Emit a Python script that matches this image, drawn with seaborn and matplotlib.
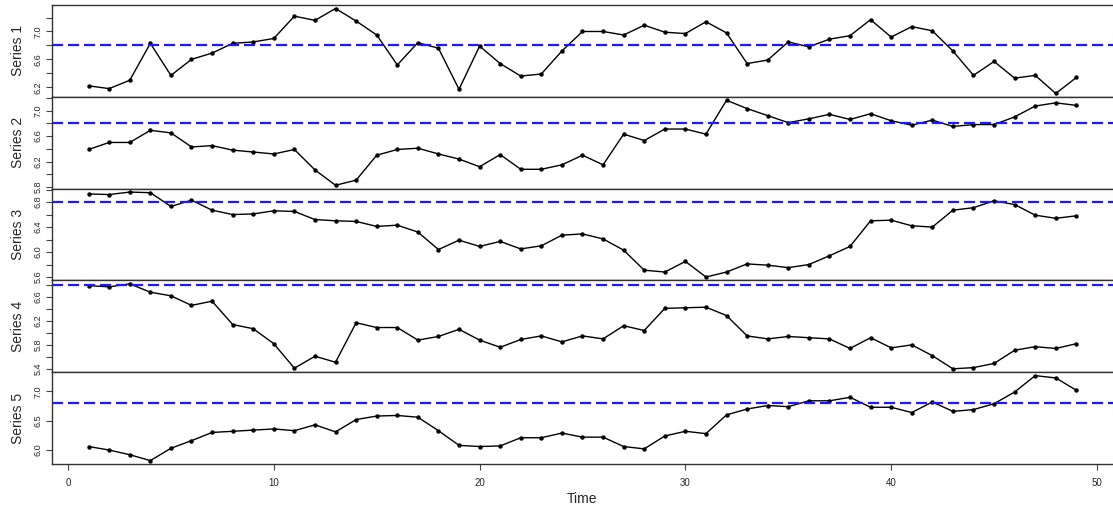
import numpy as np
import pandas as pd
import seaborn as sns
import matplotlib
matplotlib.use("Agg")
from matplotlib import pyplot as plt
from matplotlib.ticker import FixedLocator, FuncFormatter

time = list(range(1, 50))

series_1 = [6.22, 6.18, 6.30, 6.83, 6.37, 6.60, 6.69, 6.83, 6.85, 6.90,
            7.22, 7.16, 7.33, 7.15, 6.95, 6.52, 6.84, 6.76, 6.17, 6.79,
            6.54, 6.36, 6.39, 6.72, 7.00, 7.00, 6.95, 7.09, 6.99, 6.97,
            7.14, 6.98, 6.54, 6.59, 6.85, 6.78, 6.89, 6.94, 7.17, 6.92,
            7.07, 7.01, 6.72, 6.37, 6.57, 6.33, 6.37, 6.11, 6.34]
series_2 = [6.39, 6.50, 6.50, 6.69, 6.65, 6.43, 6.45, 6.38, 6.35, 6.32,
            6.39, 6.07, 5.83, 5.91, 6.30, 6.39, 6.41, 6.32, 6.24, 6.12,
            6.31, 6.08, 6.08, 6.15, 6.30, 6.15, 6.63, 6.53, 6.71, 6.71,
            6.63, 7.16, 7.03, 6.92, 6.81, 6.87, 6.94, 6.86, 6.95, 6.84,
            6.77, 6.85, 6.75, 6.78, 6.78, 6.90, 7.07, 7.12, 7.08]
series_3 = [6.93, 6.92, 6.96, 6.95, 6.73, 6.83, 6.67, 6.60, 6.61, 6.66,
            6.65, 6.52, 6.50, 6.49, 6.41, 6.43, 6.32, 6.04, 6.19, 6.09,
            6.17, 6.05, 6.10, 6.27, 6.29, 6.21, 6.03, 5.71, 5.68, 5.85,
            5.60, 5.68, 5.81, 5.79, 5.75, 5.80, 5.94, 6.09, 6.50, 6.51,
            6.42, 6.40, 6.67, 6.71, 6.82, 6.76, 6.59, 6.54, 6.58]
series_4 = [6.79, 6.77, 6.82, 6.68, 6.62, 6.46, 6.53, 6.14, 6.07, 5.82,
            5.41, 5.61, 5.51, 6.17, 6.09, 6.09, 5.88, 5.94, 6.06, 5.88,
            5.76, 5.89, 5.95, 5.85, 5.95, 5.90, 6.12, 6.04, 6.41, 6.42,
            6.43, 6.29, 5.95, 5.90, 5.94, 5.92, 5.90, 5.74, 5.92, 5.75,
            5.80, 5.62, 5.40, 5.42, 5.49, 5.71, 5.77, 5.74, 5.82]
series_5 = [6.06, 6.00, 5.92, 5.82, 6.03, 6.16, 6.30, 6.32, 6.34, 6.36,
            6.33, 6.43, 6.31, 6.52, 6.58, 6.59, 6.56, 6.33, 6.08, 6.06,
            6.07, 6.21, 6.21, 6.29, 6.22, 6.22, 6.06, 6.02, 6.24, 6.32,
            6.28, 6.60, 6.70, 6.76, 6.74, 6.84, 6.84, 6.90, 6.73, 6.73,
            6.64, 6.82, 6.66, 6.69, 6.79, 6.99, 7.27, 7.23, 7.02]

series_names = ["Series 1", "Series 2", "Series 3", "Series 4", "Series 5"]
threshold = 6.8

# ticks / labelled ticks per panel (R drops labels that would overlap)
y_ticks = [
    ([6.2, 6.4, 6.6, 6.8, 7.0, 7.2], [6.2, 6.6, 7.0]),
    ([5.8, 6.0, 6.2, 6.4, 6.6, 6.8, 7.0, 7.2], [5.8, 6.2, 6.6, 7.0]),
    ([5.6, 5.8, 6.0, 6.2, 6.4, 6.6, 6.8, 7.0], [5.6, 6.0, 6.4, 6.8]),
    ([5.4, 5.6, 5.8, 6.0, 6.2, 6.4, 6.6, 6.8], [5.4, 5.8, 6.2, 6.6]),
    ([6.0, 6.5, 7.0], [6.0, 6.5, 7.0]),
]

df = pd.DataFrame({"Time": time, "Series 1": series_1, "Series 2": series_2,
                   "Series 3": series_3, "Series 4": series_4, "Series 5": series_5})

sns.set_style("white")
plt.rcParams["font.family"] = ["Liberation Sans", "DejaVu Sans"]

fig, axes = plt.subplots(5, 1, figsize=(11.13, 5.11), dpi=100, sharex=True)
fig.subplots_adjust(left=0.0467, right=1.0, top=0.990, bottom=0.092, hspace=0)

for ax, name, (ticks, labelled) in zip(axes, series_names, y_ticks):
    sns.lineplot(data=df, x="Time", y=name, ax=ax, color="black", linewidth=1.0,
                 marker="o", markersize=3.2, markeredgewidth=0)
    ax.axhline(threshold, color="#1a1aff", linewidth=1.6, dashes=(5, 2.2))
    vals = df[name]
    pad = (vals.max() - vals.min()) * 0.04
    ax.set_ylim(vals.min() - pad, vals.max() + pad)
    ax.set_xlim(-0.78, 50.78)
    ax.yaxis.set_major_locator(FixedLocator(ticks))
    ax.yaxis.set_major_formatter(FuncFormatter(
        lambda v, p, lab=labelled: f"{v:.1f}" if any(abs(v - l) < 1e-6 for l in lab) else ""))
    ax.tick_params(axis="y", labelsize=6.5, length=4, width=0.8, color="#444444",
                   pad=3, left=True, labelrotation=90)
    for lbl in ax.get_yticklabels():
        lbl.set_verticalalignment("center")
    ax.set_ylabel(name, fontsize=10, labelpad=6)
    ax.set_xlabel("")
    for side, sp in ax.spines.items():
        sp.set_color("#333333")
        sp.set_linewidth(1.0)
    ax.spines["right"].set_visible(False)

axes[-1].set_xticks([0, 10, 20, 30, 40, 50])
axes[-1].tick_params(axis="x", labelsize=7, length=4, width=0.8, color="#444444",
                     pad=6, bottom=True)
axes[-1].set_xlabel("Time", fontsize=10, labelpad=3)

fig.savefig("out.png", dpi=100)
